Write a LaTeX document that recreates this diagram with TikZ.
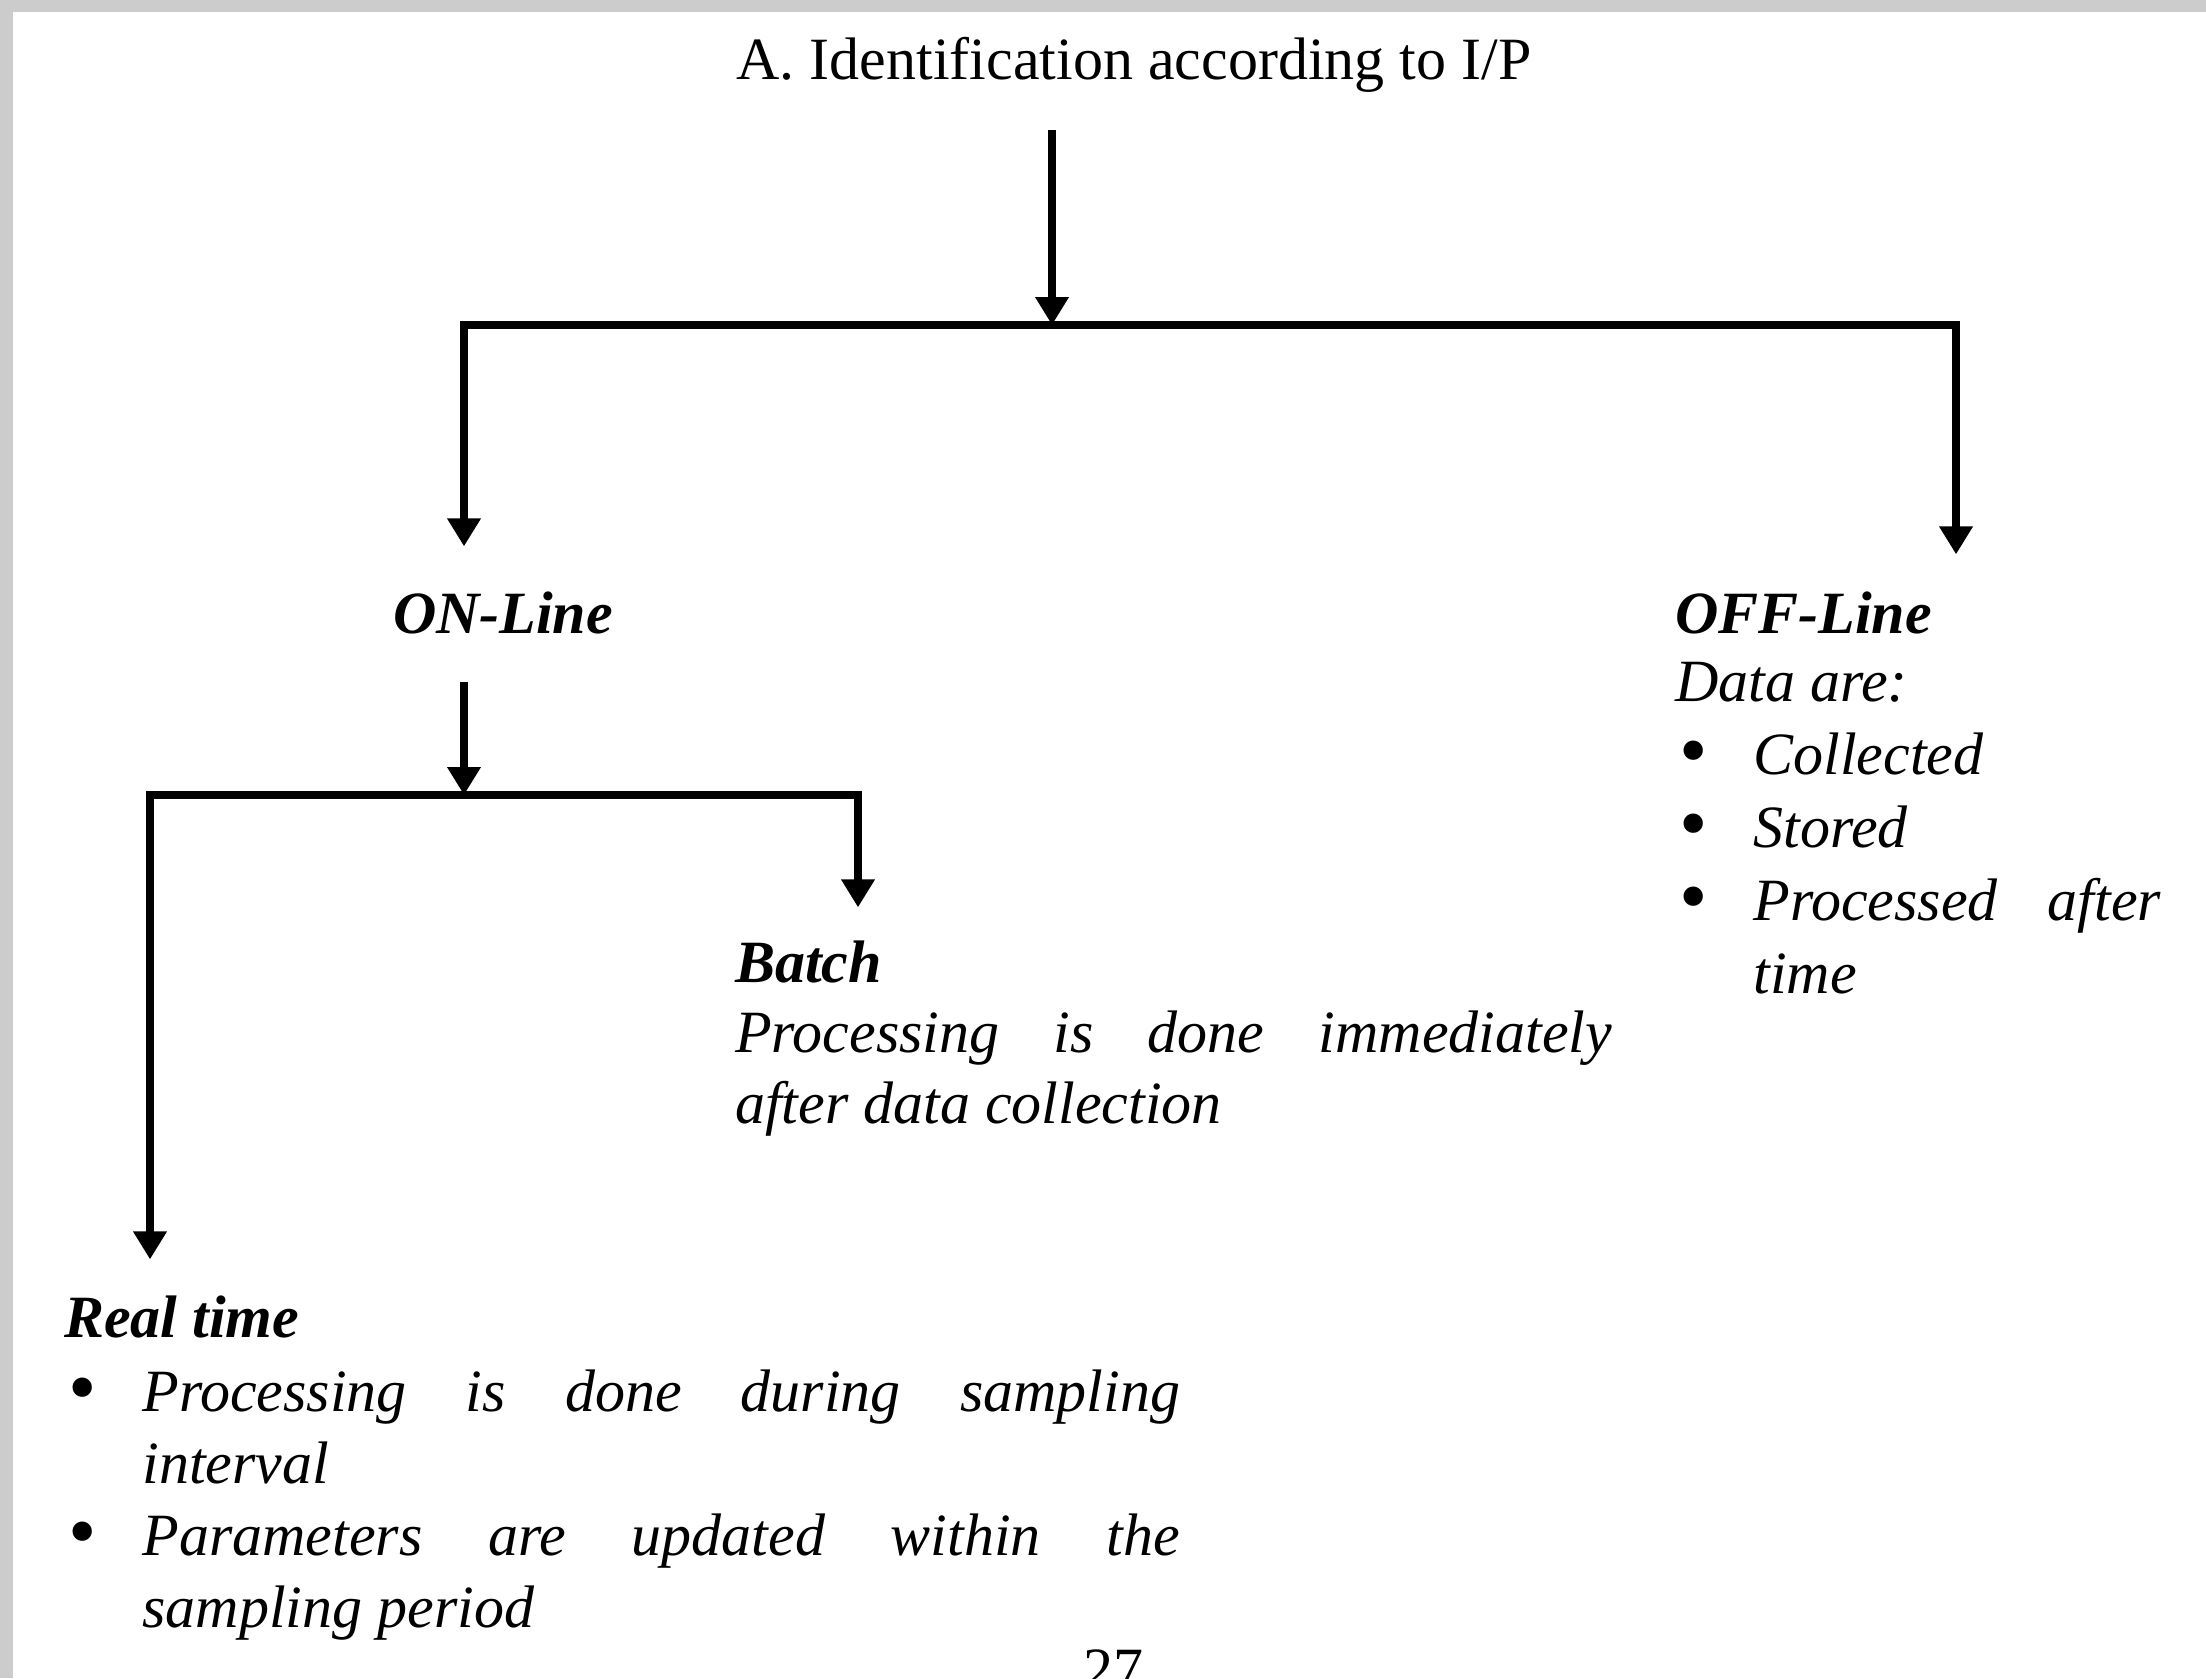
\documentclass[tikz,border=0pt]{standalone}
\usepackage{fontspec}
\setmainfont{Liberation Serif}
\usetikzlibrary{arrows.meta}
\definecolor{edgegray}{RGB}{204,204,204}
% bulleted paragraph with a hanging indent
\newcommand\dotitem[1]{\noindent\hangindent=15.7pt\hangafter=1\hbox to 15.7pt{\hskip0.8pt\upshape\raisebox{-0.6pt}{\scalebox{1.35}{\textbullet}}\hfil}#1\par}
\begin{document}
\begin{tikzpicture}[x=0.2pt,y=-0.2pt,
  conn/.style={line width=1.5pt,line join=miter},
  arr/.style={conn,-{Triangle[width=6.4pt,length=5.6pt]}},
  txt/.style={inner sep=0pt,anchor=base west,font=\fontsize{12}{14}\selectfont},
  head/.style={txt,font=\fontsize{12}{14}\selectfont\bfseries\itshape},
  block/.style={txt,font=\fontsize{12}{14.2}\selectfont\itshape,align=justify}
]
\useasboundingbox (0,0) rectangle (2206,1678);
\fill[white] (0,0) rectangle (2206,1678);
\fill[edgegray] (0,0) rectangle (2206,12);
\fill[edgegray] (0,0) rectangle (13,1678);

% headings and texts
\node (title) [txt,anchor=base] at (1134,80) {A. Identification according to I/P};
\node (on) [head] at (392,633) {ON-Line};
\node (off) [head] at (1674,633) {OFF-Line};
\node (offlist) [block,text width=97.2pt,font=\fontsize{12}{14.6}\selectfont\itshape] at (1674,701)
  {Data are:\par\dotitem{Collected}\dotitem{Stored}\dotitem{Processed after\linebreak time}};
\node (batch) [head] at (734,982) {Batch};
\node (batchtxt) [block,text width=175.4pt] at (734,1052)
  {Processing is done immediately\linebreak after data collection};
\node (rt) [head] at (63,1337) {Real time};
\node (rtlist) [block,text width=223.2pt,font=\fontsize{12}{14.4}\selectfont\itshape] at (63,1411)
  {\dotitem{Processing is done during sampling\linebreak interval}\dotitem{Parameters are updated within the\linebreak sampling period}};
\node (pg) [inner sep=0pt,anchor=base,font=\fontsize{12}{14}\selectfont] at (1113,1689) {27};

% branch points and drop lines
\coordinate (j0) at (1052,325);
\coordinate (j1) at (464,795);
\coordinate (xR) at (1956,0);
\coordinate (xRT) at (150,0);
\coordinate (xB) at (858,0);

% connectors
\draw[arr] (title.south -| j0) ++(0,36) -- (j0);
\draw[arr,shorten >=8.8pt] (j0) -| (on.north -| j1);
\draw[arr,shorten >=7.2pt] (j0) -| (off.north -| xR);
\draw[arr,shorten <=9.4pt] (on.south -| j1) -- (j1);
\draw[arr,shorten >=7pt] (j1) -| (rt.north -| xRT);
\draw[arr,shorten >=6.4pt] (j1) -| (batch.north -| xB);
\end{tikzpicture}
\end{document}
